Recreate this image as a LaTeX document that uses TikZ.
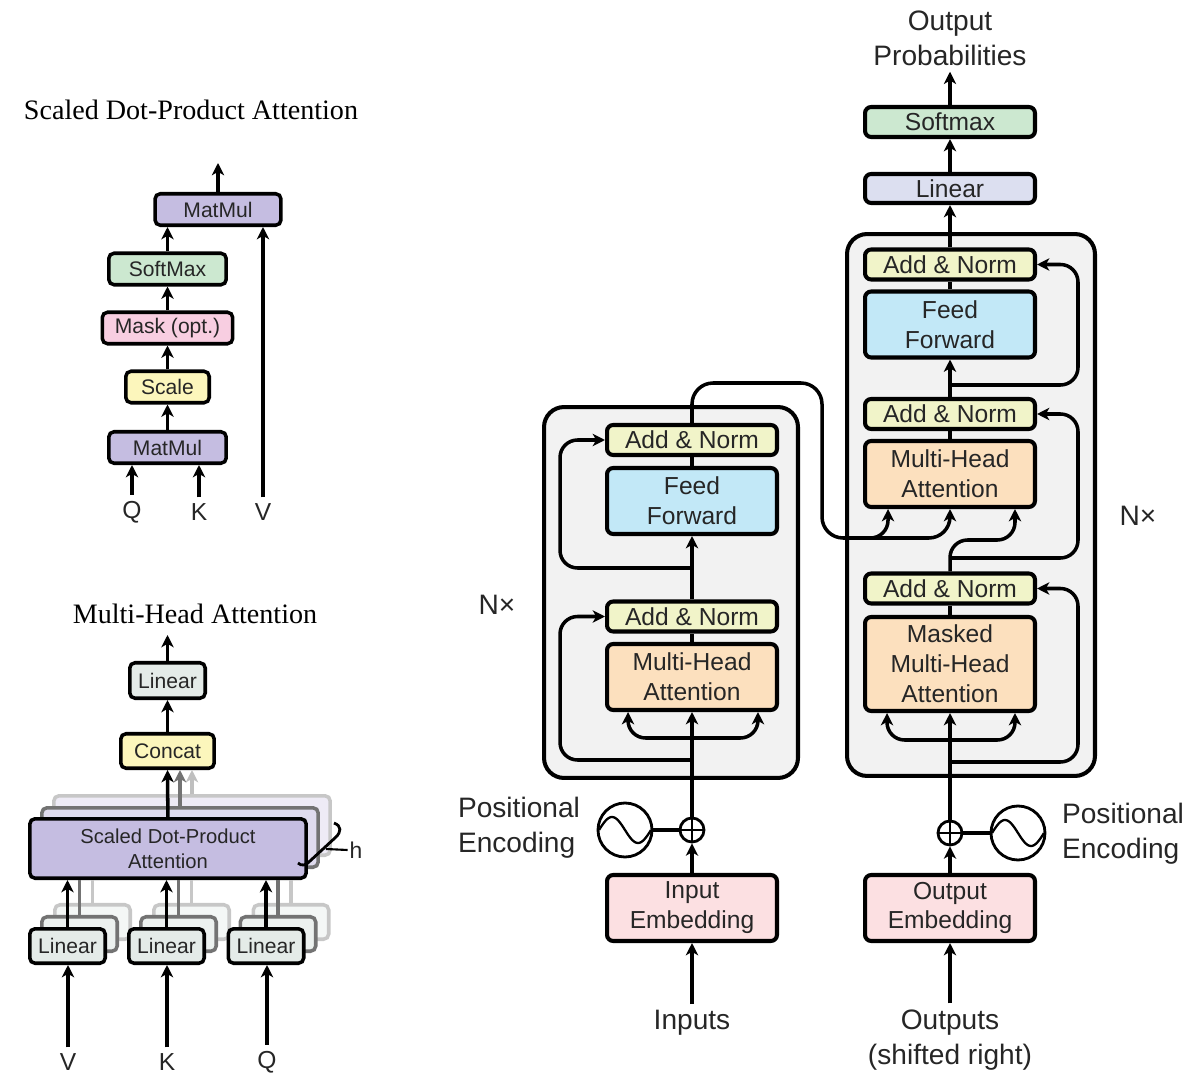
\documentclass[tikz,border=0pt]{standalone}
\usepackage{fontspec}
\setmainfont{Liberation Sans}
\newfontfamily\titlefont{Liberation Serif}
\usetikzlibrary{arrows.meta,positioning}

\definecolor{addnorm}{RGB}{241,244,201}
\definecolor{feedfwd}{RGB}{194,232,247}
\definecolor{attn}{RGB}{252,224,190}
\definecolor{embed}{RGB}{252,224,226}
\definecolor{softmx}{RGB}{204,232,208}
\definecolor{linproj}{RGB}{220,223,240}
\definecolor{matmul}{RGB}{197,189,225}
\definecolor{maskc}{RGB}{248,206,225}
\definecolor{scalec}{RGB}{252,246,188}
\definecolor{linhead}{RGB}{228,235,232}
\definecolor{layerbg}{RGB}{242,242,242}
\definecolor{txt}{RGB}{38,38,38}

\begin{document}
\begin{tikzpicture}[
		x=0.02cm, y=-0.02cm,
		block/.style={draw, line width=2.3pt, rounded corners=3.5pt, align=center, inner sep=0pt, text=txt, minimum width=3.40cm, font=\fontsize{14}{17}\selectfont},
		small/.style={minimum height=0.60cm},
		big/.style={minimum height=1.32cm},
		op/.style={draw, line width=2pt, rounded corners=3pt, align=center, inner sep=0pt, text=txt, minimum height=0.63cm, font=\fontsize{12}{14}\selectfont},
		stack/.style={draw, line width=2.3pt, fill=layerbg, rounded corners=0.4cm, inner sep=0pt},
		plus/.style={circle, draw, line width=1.6pt, fill=white, minimum size=0.48cm, inner sep=0pt},
		posenc/.style={circle, draw, line width=1.6pt, fill=white, minimum size=1.08cm, inner sep=0pt},
		flow/.style={line width=2pt, -{Stealth[length=7pt, width=7pt, inset=2pt]}},
		wire/.style={line width=2pt},
		txtlbl/.style={text=txt, align=center, font=\fontsize{16}{20}\selectfont},
		heading/.style={font=\titlefont\fontsize{16}{19}\selectfont}
		]
		\useasboundingbox (0,0) rectangle (1194,1074);

		% Scaled dot-product attention
		\node[heading] (sdTitle) at (191,110) {Scaled Dot-Product Attention};
		\node[op, fill=matmul, minimum width=2.52cm] (sdMM2) at (218,209.5) {MatMul};
		\node[op, fill=softmx, minimum width=2.35cm] (sdSoft) at (167.5,269) {SoftMax};
		\node[op, fill=maskc, minimum width=2.61cm] (sdMask) at (167.5,328) {Mask (opt.)};
		\node[op, fill=scalec, minimum width=1.67cm] (sdScale) at (167.5,387) {Scale};
		\node[op, fill=matmul, minimum width=2.35cm] (sdMM1) at (167.5,447.5) {MatMul};
		\node[txtlbl, font=\fontsize{14}{16}\selectfont] (sdQ) at (132,512) {Q};
		\node[txtlbl, font=\fontsize{14}{16}\selectfont] (sdK) at (199,512) {K};
		\node[txtlbl, font=\fontsize{14}{16}\selectfont] (sdV) at (263,512) {V};
		\coordinate (sdOut) at (218,163);
		\draw[flow] (sdQ) -- (sdQ |- sdMM1.south);
		\draw[flow] (sdK) -- (sdK |- sdMM1.south);
		\draw[flow] (sdV) -- (sdV |- sdMM2.south);
		\draw[flow] (sdMM1) -- (sdScale);
		\draw[flow] (sdScale) -- (sdMask);
		\draw[flow] (sdMask) -- (sdSoft);
		\draw[flow] (sdSoft.north) -- (sdSoft.north |- sdMM2.south);
		\draw[flow] (sdMM2) -- (sdOut);

		% Multi-head attention
		\node[heading] (mhTitle) at (195,614) {Multi-Head Attention};
		\node[op, fill=linhead, minimum width=1.51cm, minimum height=0.71cm] (mhLin) at (167.5,680.5) {Linear};
		\node[op, fill=scalec, minimum width=1.87cm, minimum height=0.69cm] (mhCat) at (167.5,751) {Concat};
		\coordinate (mhOut) at (167.5,635);
		% stacked heads behind
		\node[op, fill=matmul!30, draw=black!22, minimum width=5.53cm, minimum height=1.19cm] (mhSDPAc) at (192,825.5) {};
		\node[op, fill=matmul!55, draw=black!55, minimum width=5.53cm, minimum height=1.19cm] (mhSDPAb) at (180,837.5) {};
		\node[op, fill=matmul, minimum width=5.53cm, minimum height=1.19cm, font=\fontsize{11.5}{14.2}\selectfont] (mhSDPA) at (168,848.5) {Scaled Dot-Product\\Attention};
		\node[op, fill=linhead!40, draw=black!22, minimum width=1.51cm, minimum height=0.69cm] (mhLinVc) at (92.5,922) {};
		\node[op, fill=linhead!40, draw=black!22, minimum width=1.51cm, minimum height=0.69cm] (mhLinKc) at (191.5,922) {};
		\node[op, fill=linhead!40, draw=black!22, minimum width=1.51cm, minimum height=0.69cm] (mhLinQc) at (291,922) {};
		\node[op, fill=linhead!70, draw=black!55, minimum width=1.51cm, minimum height=0.69cm] (mhLinVb) at (79.5,934) {};
		\node[op, fill=linhead!70, draw=black!55, minimum width=1.51cm, minimum height=0.69cm] (mhLinKb) at (178.5,934) {};
		\node[op, fill=linhead!70, draw=black!55, minimum width=1.51cm, minimum height=0.69cm] (mhLinQb) at (278,934) {};
		\node[op, fill=linhead, minimum width=1.51cm, minimum height=0.69cm] (mhLinV) at (67.5,946) {Linear};
		\node[op, fill=linhead, minimum width=1.51cm, minimum height=0.69cm] (mhLinK) at (166.5,946) {Linear};
		\node[op, fill=linhead, minimum width=1.51cm, minimum height=0.69cm] (mhLinQ) at (266,946) {Linear};
		\node[txtlbl, font=\fontsize{14}{16}\selectfont] (mhV) at (68,1062) {V};
		\node[txtlbl, font=\fontsize{14}{16}\selectfont] (mhK) at (167,1062) {K};
		\node[txtlbl, font=\fontsize{14}{16}\selectfont] (mhQ) at (267,1062) {Q};
		\draw[wire, black!22] (mhLinVc.north) -- (mhLinVc.north |- mhSDPA.south);
		\draw[wire, black!22] (mhLinKc.north) -- (mhLinKc.north |- mhSDPA.south);
		\draw[wire, black!22] (mhLinQc.north) -- (mhLinQc.north |- mhSDPA.south);
		\draw[wire, black!55] (mhLinVb.north) -- (mhLinVb.north |- mhSDPA.south);
		\draw[wire, black!55] (mhLinKb.north) -- (mhLinKb.north |- mhSDPA.south);
		\draw[wire, black!55] (mhLinQb.north) -- (mhLinQb.north |- mhSDPA.south);
		\draw[flow] (mhV) -- (mhV |- mhLinV.south);
		\draw[flow] (mhK) -- (mhK |- mhLinK.south);
		\draw[flow] (mhQ) -- (mhQ |- mhLinQ.south);
		\draw[flow] (mhLinV) -- (mhLinV |- mhSDPA.south);
		\draw[flow] (mhLinK) -- (mhLinK |- mhSDPA.south);
		\draw[flow] (mhLinQ) -- (mhLinQ |- mhSDPA.south);
		\draw[flow, black!25] (mhSDPAc.north) -- (mhSDPAc.north |- mhCat.south);
		\draw[flow, black!55] (mhSDPAb.north) -- (mhSDPAb.north |- mhCat.south);
		\draw[flow] (mhSDPA) -- (mhCat);
		\draw[flow] (mhCat) -- (mhLin);
		\draw[flow] (mhLin) -- (mhOut);
		% h brace
		\draw[line width=1.6pt] (334,823) .. controls (342,826) and (341,832) .. (336,837) -- (310,861) .. controls (306,866) and (301,866) .. (298,863);
		\node[text=txt, font=\fontsize{13}{15}\selectfont, inner sep=1pt] (mhH) at (356,850) {h};
		\coordinate (mhBrace) at (326,849);
		\draw[line width=1.2pt] (mhBrace) -- (mhH.west);

		% Encoder
		\node[stack, minimum width=5.08cm, minimum height=7.42cm] (encBox) at (671,592.5) {};
		\node[block, small, fill=addnorm] (encAN2) at (692,440) {Add \& Norm};
		\node[block, big, fill=feedfwd] (encFF) at (692,501) {Feed\\Forward};
		\node[block, small, fill=addnorm] (encAN1) at (692,616.5) {Add \& Norm};
		\node[block, big, fill=attn] (encMHA) at (692,677) {Multi-Head\\Attention};
		\node[block, big, fill=embed] (inEmb) at (692,908) {Input\\Embedding};
		\node[plus] (encPlus) at (692,830) {};
		\node[posenc] (encPE) at (625,830) {};
		\node[txtlbl, align=left] (encPElbl) at (519,828) {Positional\\Encoding};
		\node[txtlbl] (inLbl) at (692,1023) {Inputs};
		\node[txtlbl] (encN) at (497,605) {N×};
		\coordinate (encFork) at (692,738);
		\coordinate (encRes1) at (692,760);
		\coordinate (encRes2) at (692,568);
		\draw[wire] (encPE) -- (encPlus);
		\draw[line width=1.3pt] (encPlus.north) -- (encPlus.south);
		\draw[line width=1.3pt] (encPlus.west) -- (encPlus.east);
		\draw[line width=1.3pt, shift={(encPE.center)}] plot[domain=-26:26, samples=40, smooth] (\x, {13*sin(\x*180/26)});
		\draw[flow] (inLbl) -- (inEmb);
		\draw[flow] (inEmb) -- (encPlus);
		\draw[flow] (encPlus) -- (encMHA);
		\draw[flow, rounded corners=10pt] (encFork) -| ([xshift=-1.28cm]encMHA.south);
		\draw[flow, rounded corners=10pt] (encFork) -| ([xshift=1.32cm]encMHA.south);
		\draw[flow, rounded corners=10pt] (encRes1) -| ([xshift=-0.9cm]encAN1.west) -- (encAN1.west);
		\draw[wire] (encMHA) -- (encAN1);
		\draw[flow] (encAN1) -- (encFF);
		\draw[flow, rounded corners=10pt] (encRes2) -| ([xshift=-0.9cm]encAN2.west) -- (encAN2.west);
		\draw[wire] (encFF) -- (encAN2);

		% Decoder
		\node[stack, minimum width=4.96cm, minimum height=10.84cm] (decBox) at (971,505) {};
		\node[block, small, fill=addnorm] (decAN3) at (950,264.5) {Add \& Norm};
		\node[block, big, fill=feedfwd] (decFF) at (950,324.5) {Feed\\Forward};
		\node[block, small, fill=addnorm] (decAN2) at (950,414) {Add \& Norm};
		\node[block, big, fill=attn] (decMHA) at (950,474) {Multi-Head\\Attention};
		\node[block, small, fill=addnorm] (decAN1) at (950,588.5) {Add \& Norm};
		\node[block, minimum height=1.88cm, fill=attn] (decMMHA) at (950,664) {Masked\\Multi-Head\\Attention};
		\node[block, minimum height=0.58cm, fill=linproj] (decLin) at (950,188.5) {Linear};
		\node[block, small, fill=softmx] (decSoft) at (950,122) {Softmax};
		\node[block, big, fill=embed] (outEmb) at (950,908) {Output\\Embedding};
		\node[plus] (decPlus) at (950,833) {};
		\node[posenc] (decPE) at (1018,833) {};
		\node[txtlbl, align=left] (decPElbl) at (1123,834) {Positional\\Encoding};
		\node[txtlbl] (outLbl) at (950,1040) {Outputs\\(shifted right)};
		\node[txtlbl] (outProb) at (950,38) {Output\\Probabilities};
		\node[txtlbl] (decN) at (1138,516) {N×};
		\coordinate (decFork) at (950,740);
		\coordinate (decRes1) at (950,762);
		\coordinate (decRes2) at (950,558);
		\coordinate (decRes3) at (950,385);
		\coordinate (crossFork) at (855,538);
		\draw[wire] (decPE) -- (decPlus);
		\draw[line width=1.3pt] (decPlus.north) -- (decPlus.south);
		\draw[line width=1.3pt] (decPlus.west) -- (decPlus.east);
		\draw[line width=1.3pt, shift={(decPE.center)}] plot[domain=-26:26, samples=40, smooth] (\x, {13*sin(\x*180/26)});
		\draw[flow] (outLbl) -- (outEmb);
		\draw[flow] (outEmb) -- (decPlus);
		\draw[flow] (decPlus) -- (decMMHA);
		\draw[flow, rounded corners=10pt] (decFork) -| ([xshift=-1.26cm]decMMHA.south);
		\draw[flow, rounded corners=10pt] (decFork) -| ([xshift=1.3cm]decMMHA.south);
		\draw[flow, rounded corners=10pt] (decRes1) -| ([xshift=0.82cm]decAN1.east) -- (decAN1.east);
		\draw[wire] (decMMHA) -- (decAN1);
		\draw[flow, rounded corners=10pt] (decAN1.north) -- (950,540) -| ([xshift=1.3cm]decMHA.south);
		\draw[flow, rounded corners=10pt] (decRes2) -| ([xshift=0.82cm]decAN2.east) -- (decAN2.east);
		\draw[wire] (decMHA) -- (decAN2);
		\draw[flow] (decAN2) -- (decFF);
		\draw[flow, rounded corners=10pt] (decRes3) -| ([xshift=0.82cm]decAN3.east) -- (decAN3.east);
		\draw[wire] (decFF) -- (decAN3);
		\draw[flow] (decAN3) -- (decLin);
		\draw[flow] (decLin) -- (decSoft);
		\draw[flow] (decSoft) -- (outProb);

		% Encoder output into decoder
		\draw[flow, rounded corners=12pt] (encAN2.north) |- (822,383) -- (822,538) -| (decMHA.south);
		\draw[flow, rounded corners=10pt] (crossFork) -| ([xshift=-1.24cm]decMHA.south);
	\end{tikzpicture}
\end{document}
